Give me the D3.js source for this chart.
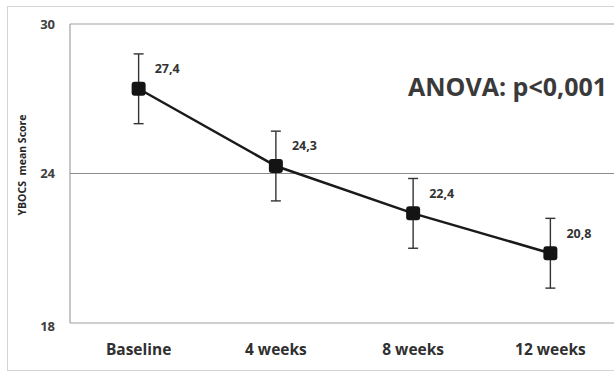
<!DOCTYPE html>
<html>
<head>
<meta charset="utf-8">
<script src="https://cdn.jsdelivr.net/npm/d3@7"></script>
<style>
  html, body { margin: 0; padding: 0; background: #fff; overflow: hidden; }
  svg { display: block; }
  text { font-family: "Open Sans", "DejaVu Sans", sans-serif; font-weight: 700; }
</style>
</head>
<body>
<svg id="chart" width="614" height="374"></svg>
<script>
const categories = ["Baseline", "4 weeks", "8 weeks", "12 weeks"];
const meanScores = [27.4, 24.3, 22.4, 20.8];
const errorUpper = [28.8, 25.7, 23.8, 22.2];
const errorLower = [26.0, 22.9, 21.0, 19.4];
const valueLabels = ["27,4", "24,3", "22,4", "20,8"];
const yTicks = [18, 24, 30];
const yTitle = "YBOCS\u00A0\u00A0mean Score";
const annotation = "ANOVA: p<0,001";

const svg = d3.select("#chart");
const W = 614, H = 374;
const m = { left: 70, top: 24, right: -5, bottom: 51 };

// outer frame
svg.append("rect").attr("x", 7.5).attr("y", 6.5).attr("width", W + 10).attr("height", 364)
  .attr("fill", "#fff").attr("stroke", "#d4d4d4").attr("stroke-width", 1);

const x = d3.scaleBand().domain(categories).range([m.left, W - m.right]);
const y = d3.scaleLinear().domain([18, 30]).range([H - m.bottom, m.top]);

// plot frame lines
svg.append("line").attr("x1", m.left).attr("x2", W).attr("y1", y(30)).attr("y2", y(30))
  .attr("stroke", "#a0a0a0").attr("stroke-width", 1.2);
svg.append("line").attr("x1", m.left).attr("x2", W).attr("y1", y(18)).attr("y2", y(18))
  .attr("stroke", "#a0a0a0").attr("stroke-width", 1.2);
svg.append("line").attr("x1", m.left).attr("x2", m.left).attr("y1", y(30)).attr("y2", y(18))
  .attr("stroke", "#a0a0a0").attr("stroke-width", 1.2);
// gridline at 24
svg.append("line").attr("x1", m.left).attr("x2", W).attr("y1", y(24)).attr("y2", y(24))
  .attr("stroke", "#8c8c8c").attr("stroke-width", 1);

// y tick labels
svg.append("g").selectAll("text").data(yTicks).join("text")
  .attr("x", 55).attr("y", d => y(d) + (d === 18 ? 3 : 0)).attr("dy", "0.35em")
  .attr("text-anchor", "end").attr("font-size", 13).attr("fill", "#404040")
  .text(d => d);

// y title
svg.append("text")
  .attr("transform", `translate(26,${165}) rotate(-90)`)
  .attr("text-anchor", "middle").attr("font-size", 10.5).attr("fill", "#262626")
  .text(yTitle);

// x labels
svg.append("g").selectAll("text").data(categories).join("text")
  .attr("x", d => x(d) + x.bandwidth() / 2).attr("y", 350).attr("dy", "0.35em")
  .attr("text-anchor", "middle").attr("font-size", 15.5).attr("fill", "#303030")
  .text(d => d);

const cx = i => x(categories[i]) + x.bandwidth() / 2;

// error bars
const eb = svg.append("g").attr("stroke", "#333").attr("stroke-width", 1.4);
meanScores.forEach((v, i) => {
  eb.append("line").attr("x1", cx(i)).attr("x2", cx(i)).attr("y1", y(errorUpper[i])).attr("y2", y(errorLower[i]));
  eb.append("line").attr("x1", cx(i) - 5).attr("x2", cx(i) + 5).attr("y1", y(errorUpper[i])).attr("y2", y(errorUpper[i]));
  eb.append("line").attr("x1", cx(i) - 5).attr("x2", cx(i) + 5).attr("y1", y(errorLower[i])).attr("y2", y(errorLower[i]));
});

// line
svg.append("path").datum(meanScores)
  .attr("d", d3.line().x((d, i) => cx(i)).y(d => y(d)))
  .attr("fill", "none").attr("stroke", "#1a1a1a").attr("stroke-width", 2.5);

// markers
svg.append("g").selectAll("rect").data(meanScores).join("rect")
  .attr("x", (d, i) => cx(i) - 7).attr("y", d => y(d) - 7)
  .attr("width", 14).attr("height", 14).attr("rx", 3)
  .attr("fill", "#141414");

// value labels
svg.append("g").selectAll("text").data(valueLabels).join("text")
  .attr("x", (d, i) => cx(i) + 16).attr("y", (d, i) => y(meanScores[i]) - 20).attr("dy", "0.35em")
  .attr("font-size", 12.5).attr("fill", "#333")
  .text(d => d);

// annotation
svg.append("text").attr("x", 408).attr("y", 96)
  .attr("font-size", 25).attr("fill", "#3a3a3a").attr("font-weight", 700)
  .text(annotation);
</script>
</body>
</html>
